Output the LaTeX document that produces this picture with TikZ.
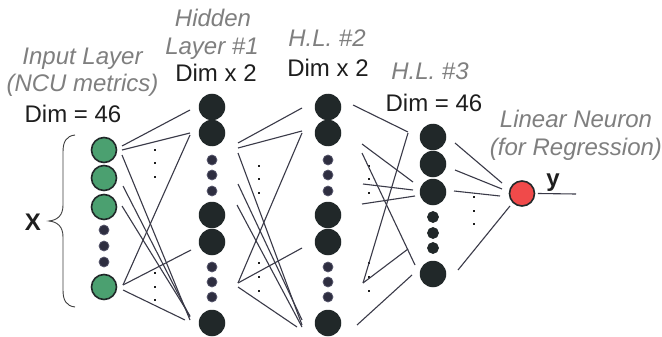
\documentclass[tikz,border=0pt]{standalone}
\usepackage{fontspec}
\setmainfont{Liberation Sans}
\definecolor{ink}{HTML}{1E1E1E}
\definecolor{muted}{HTML}{7F7F7F}
\definecolor{neuron}{HTML}{212829}
\definecolor{minor}{HTML}{2E2E40}
\definecolor{minoredge}{HTML}{5A5A70}
\definecolor{inputg}{HTML}{4BA070}
\definecolor{outr}{HTML}{F04A4A}
\definecolor{wirec}{HTML}{3A3A48}
\tikzset{
  lab/.style={font=\fontsize{24}{28}\selectfont, inner sep=0pt, anchor=base},
  title/.style={lab, text=muted, font=\fontsize{24}{28}\selectfont\itshape},
  dimlab/.style={lab, text=ink},
  inpn/.style={circle, draw=neuron, line width=1.6pt, fill=inputg, minimum size=25pt, inner sep=0pt},
  bign/.style={circle, fill=neuron, minimum size=26.5pt, inner sep=0pt},
  smalln/.style={circle, fill=minor, draw=minoredge, line width=0.7pt, minimum size=10pt, inner sep=0pt},
  outn/.style={circle, draw=neuron, line width=1.6pt, fill=outr, minimum size=25pt, inner sep=0pt},
  vdot/.style={rectangle, fill=ink, minimum size=2.3pt, inner sep=0pt},
  wire/.style={draw=wirec, line width=1.1pt},
}
\begin{document}
\begin{tikzpicture}[x=1pt,y=-1pt]
\useasboundingbox (0,0) rectangle (662,337);
\fill[white] (0,0) rectangle (662,337);

% ---- labels ----
\node[title] (tin1) at (82.5,65) {Input Layer};
\node[title] (tin2) at (82.5,92) {(NCU metrics)};
\node[dimlab] (tin3) at (73,122) {Dim = 46};
\node[title] (th1a) at (213,27) {Hidden};
\node[title] (th1b) at (212,55) {Layer \#1};
\node[dimlab] (th1c) at (216,82) {Dim x 2};
\node[title] (th2a) at (327,47) {H.L. \#2};
\node[dimlab] (th2b) at (328,77) {Dim x 2};
\node[title] (th3a) at (430,80) {H.L. \#3};
\node[dimlab] (th3b) at (434,111) {Dim = 46};
\node[title] (tout1) at (576,128) {Linear Neuron};
\node[title] (tout2) at (576,155) {(for Regression)};
\node[lab, text=ink, font=\fontsize{24}{28}\selectfont\bfseries] (tx) at (33,230) {X};
\node[lab, text=ink, font=\fontsize{24}{28}\selectfont\bfseries] (ty) at (553,186) {y};

% ---- brace over the inputs ----
\draw[ink!85, line width=0.9pt]
  (75,135) .. controls (66,136) and (63,142) .. (63,152) -- (63,205)
  .. controls (63,215) and (58,220) .. (49,221)
  .. controls (58,222) and (63,227) .. (63,237) -- (63,290)
  .. controls (63,300) and (66,306) .. (75,307);

% ---- input layer ----
\foreach \i/\y in {1/150,2/178,3/207,4/287}
  \node[inpn] (in\i) at (104,\y) {};
\foreach \i/\y in {1/230,2/246,3/262}
  \node[smalln] (ins\i) at (104,\y) {};

% ---- hidden layers 1 and 2 ----
\foreach \L/\x in {1/212,2/328}{
  \foreach \i/\y in {1/107,2/133,3/215,4/242,5/323}
    \node[bign] (h\L b\i) at (\x,\y) {};
  \foreach \i/\y in {1/160,2/175,3/191,4/267,5/282,6/297}
    \node[smalln] (h\L s\i) at (\x,\y) {};
}

% ---- hidden layer 3 ----
\foreach \i/\y in {1/137,2/164,3/192,4/274}
  \node[bign] (h3b\i) at (433,\y) {};
\foreach \i/\y in {1/217,2/233,3/248}
  \node[smalln, minimum size=11pt, fill=neuron, draw=neuron] (h3s\i) at (433,\y) {};

% ---- output neuron ----
\node[outn] (out) at (522,193.5) {};
\coordinate (yend) at (576,194);
\draw[wire] ([xshift=2.5pt]out.east) -- (yend);

% ---- elided-connection dots ----
\foreach \c/\x/\ya/\yb/\yc in {a/155/150/163/177, b/155/273/287/300,
    c/259/166/179/193, d/259/263/277/291,
    e/369/166/179/193, f/369/263/277/291, g/474/197/211/224}{
  \node[vdot] (dot\c1) at (\x,\ya) {};
  \node[vdot] (dot\c2) at (\x,\yb) {};
  \node[vdot] (dot\c3) at (\x,\yc) {};
}

% ---- connections ----
\foreach \n/\xa/\ya/\xb/\yb in {
    % input -> hidden 1
    p1/122/146/190/110, p2/122/150/190/133, p3/122/155/190/320,
    p4/123/186/190/317, p5/122/206/190/316, p6/123/285/190/135,
    p7/123/285/191/250, p8/123/290/185/320,
    % hidden 1 -> hidden 2
    q1/238/143/302/108, q2/238/148/302/131, q3/238/153/302/325,
    q4/238/184/302/320, q5/237/205/302/327, q6/238/283/302/133,
    q7/238/283/302/248, q8/238/287/297/327,
    % hidden 2 -> hidden 3
    r1/353/105/408/132, r2/408/133/363/283, r3/362/144/413/182,
    r4/362/153/415/265, r5/363/184/413/190, r6/362/204/415/196,
    r7/363/283/408/249, r8/357/325/412/275,
    % hidden 3 -> output
    s1/455/143/502/183, s2/455/170/502/189, s3/454/191/500/196,
    s4/458/270/510/206}{
  \coordinate (\n s) at (\xa,\ya);
  \coordinate (\n e) at (\xb,\yb);
  \draw[wire] (\n s) -- (\n e);
}
\end{tikzpicture}
\end{document}
